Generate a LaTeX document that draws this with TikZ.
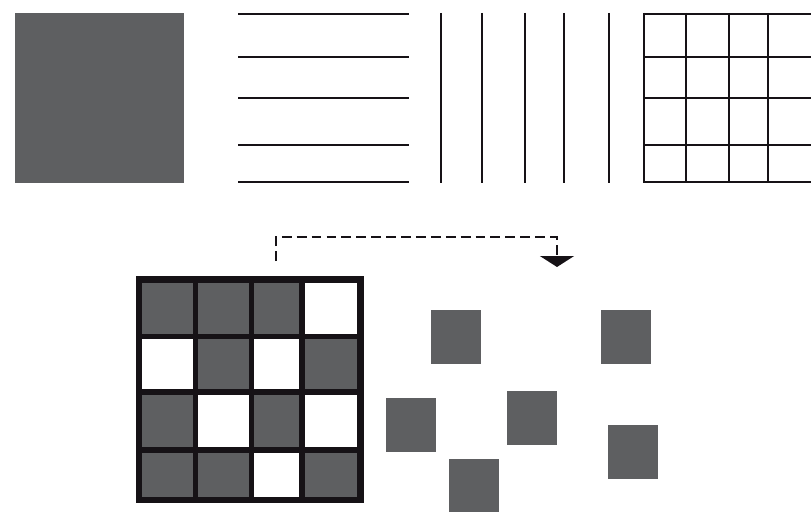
\documentclass[tikz,border=0pt]{standalone}
\usetikzlibrary{arrows.meta, positioning}
\definecolor{fillG}{RGB}{94, 95, 97}
\definecolor{inkK} {RGB}{ 22, 18, 22}
\tikzset{
  solidsq/.style={rectangle, fill=fillG, draw=none, inner sep=0pt,
    minimum width=1.25cm, minimum height=1.35cm},
  stroke/.style={draw=inkK, line width=2.1pt},
  gridline/.style={draw=inkK, line width=2.1pt},
  maskline/.style={draw=inkK, line width=3.6pt},
  maskframe/.style={draw=inkK, line width=4.5pt},
  flowarr/.style={draw=inkK, line width=1.8pt, dash pattern=on 7pt off 3.6pt,
    -{Triangle[length=7.8pt,width=24pt]}},
}

\begin{document}
\begin{tikzpicture}[x=0.025cm, y=-0.025cm]
\useasboundingbox (0,0) rectangle (811,512);
% top row: filled, horizontal, vertical, grid
\node[solidsq, minimum width=4.225cm, minimum height=4.25cm] (full) at (99.5,98) {};
\foreach \yy in {14,57,98,145,182}
  \draw[stroke] (238,\yy) -- (409,\yy);
\foreach \xx in {441,482,525,564,609}
  \draw[stroke] (\xx,13) -- (\xx,183);
\foreach \yy in {14,57,98,145,182}
  \draw[gridline] (644,\yy) -- (811,\yy);
\foreach \xx in {644,686,729,768}
  \draw[gridline] (\xx,13) -- (\xx,183);
% mask
\foreach \xa/\ya/\xb/\yb in {139/279.5/195.5/336.5, 195.5/279.5/251.5/336.5, 251.5/279.5/302/336.5,
    195.5/336.5/251.5/392, 302/336.5/360.5/392,
    139/392/195.5/450, 251.5/392/302/450,
    139/450/195.5/500, 195.5/450/251.5/500, 302/450/360.5/500}
  \fill[fillG] (\xa,\ya) rectangle (\xb,\yb);
\foreach \xx in {195.5,251.5,302}
  \draw[maskline] (\xx,277) -- (\xx,503);
\foreach \yy in {336.5,392,450}
  \draw[maskline] (136,\yy) -- (363,\yy);
\draw[maskframe] (139,279.5) rectangle (360.5,500);
% scattered result
\foreach \n/\cx/\cy in {1/456/337, 2/626/337, 3/411/425, 4/532/418, 5/474/486, 6/633/452}
  \node[solidsq] (sq\n) at (\cx,\cy) {};
\coordinate (src) at (276,261);
\coordinate (dst) at (557,267);
\draw[flowarr] (src) -- ++(0,-24) -| (dst);
\end{tikzpicture}
\end{document}
